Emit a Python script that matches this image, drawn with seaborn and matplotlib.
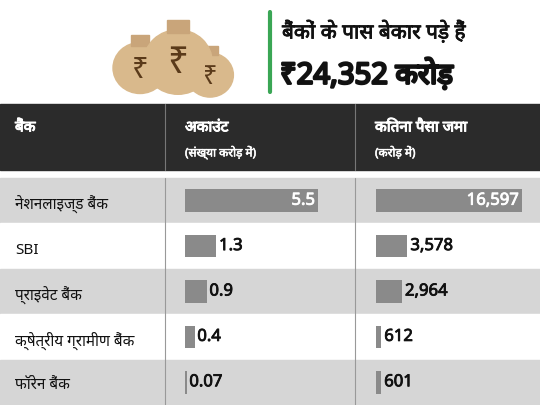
import matplotlib
matplotlib.use("Agg")
import matplotlib.pyplot as plt
import matplotlib.patches as mpatches
import matplotlib.patheffects as pe
import seaborn as sns

sns.set_theme(style="white")
plt.rcParams['font.family'] = ['Noto Sans', 'DejaVu Sans']

banks = ['नेशनलाइज्ड बैंक', 'SBI', 'प्राइवेट बैंक', 'क्षेत्रीय ग्रामीण बैंक', 'फॉरेन बैंक']
accounts = [5.5, 1.3, 0.9, 0.4, 0.07]
account_labels = ['5.5', '1.3', '0.9', '0.4', '0.07']
deposits = [16597, 3578, 2964, 612, 601]
deposit_labels = ['16,597', '3,578', '2,964', '612', '601']

W, H = 540, 405
fig = plt.figure(figsize=(5.4, 4.05), dpi=100)
ax0 = fig.add_axes([0, 0, 1, 1])
ax0.set_xlim(0, W)
ax0.set_ylim(H, 0)
ax0.axis('off')


def fake_bold(w, c):
    return [pe.withStroke(linewidth=w, foreground=c)]


# money bags
for cx, cy, r in [(140, 68, 30), (210, 75, 26), (178, 62, 38)]:
    ax0.add_patch(mpatches.Ellipse((cx, cy), r * 1.8, r * 1.7, color='#d9b98c', zorder=2))
    ax0.add_patch(mpatches.Rectangle((cx - r * 0.3, cy - r * 1.1), r * 0.6, r * 0.35, color='#c9a57a', zorder=2))
    ax0.text(cx, cy + 2, '₹', fontsize=r * 0.7, color='#5a3a1a', ha='center', va='center',
             weight='bold', zorder=3)

# title
ax0.plot([270, 270], [12, 92], color='#3aa655', lw=3)
ax0.text(282, 32, 'बैंकों के पास बेकार पड़े हैं', fontsize=15, va='center', color='#111',
         path_effects=fake_bold(0.6, '#111'))
ax0.text(280, 75, '₹24,352 करोड़', fontsize=21, va='center', color='#111',
         path_effects=fake_bold(1.8, '#111'))

# header
ax0.add_patch(mpatches.Rectangle((0, 104), W, 66, color='#2b2b2b'))
hb = fake_bold(0.7, 'white')
ax0.text(15, 128, 'बैंक', color='white', fontsize=11, va='center', path_effects=hb)
ax0.text(185, 128, 'अकाउंट', color='white', fontsize=11, va='center', path_effects=hb)
ax0.text(185, 153, '(संख्या करोड़ में)', color='white', fontsize=8.5, va='center',
         path_effects=fake_bold(0.4, 'white'))
ax0.text(375, 128, 'कितना पैसा जमा', color='white', fontsize=11, va='center', path_effects=hb)
ax0.text(375, 153, '(करोड़ में)', color='white', fontsize=8.5, va='center',
         path_effects=fake_bold(0.4, 'white'))
for x in (165, 355):
    ax0.plot([x, x], [104, 170], color='#777', lw=0.8)

top = 178
rh = (H - top) / len(banks)
for i, b in enumerate(banks):
    y0 = top + i * rh
    ax0.add_patch(mpatches.Rectangle((0, y0), W, rh, color='#d6d6d6' if i % 2 == 0 else 'white'))
    ax0.text(15, y0 + rh / 2 + 4, b, fontsize=11, va='center', color='#111')
for x in (165, 355):
    ax0.plot([x, x], [top, H], color='#999', lw=0.8)


def bar_col(x0, x1, vals, labels):
    ax = fig.add_axes([x0 / W, 0, (x1 - x0) / W, (H - top) / H])
    ax.set_xlim(0, max(vals))
    ax.set_ylim(len(vals) - 0.5, -0.5)
    ax.barh(range(len(vals)), vals, height=0.5, color='#8a8a8a', linewidth=0)
    for i, (v, l) in enumerate(zip(vals, labels)):
        if v == max(vals):
            ax.text(v * 0.98, i, l, color='white', fontsize=12, ha='right', va='center',
                    path_effects=fake_bold(0.6, 'white'))
        else:
            ax.text(v + max(vals) * 0.02, i, l, color='#111', fontsize=12, ha='left', va='center',
                    path_effects=fake_bold(0.6, '#111'))
    ax.axis('off')
    ax.patch.set_alpha(0)


bar_col(185, 318, accounts, account_labels)
bar_col(376, 522, deposits, deposit_labels)

fig.savefig('out.png', dpi=100)
